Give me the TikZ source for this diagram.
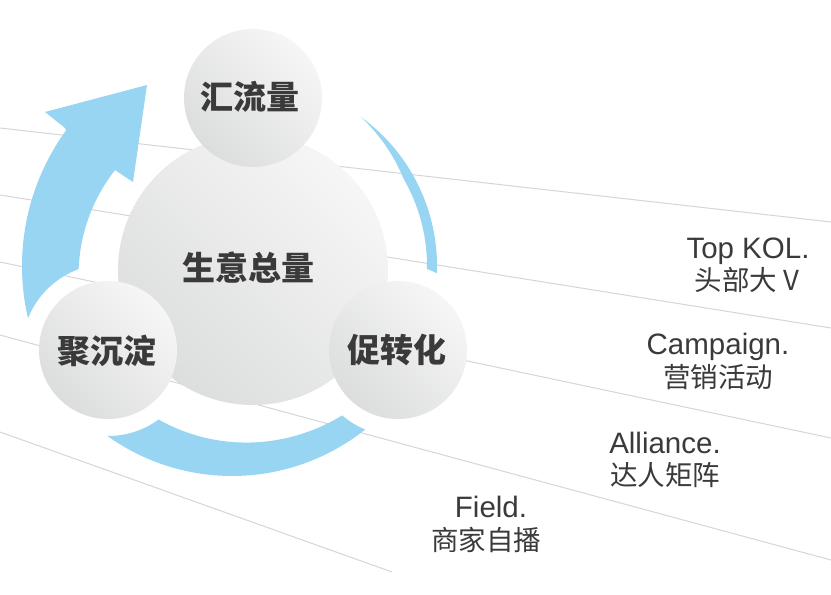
\documentclass[tikz,border=0pt]{standalone}
\usepackage{fontspec}
\setmainfont{Liberation Sans}
\newfontfamily\cjk{Noto Sans CJK SC}
\definecolor{arrowblue}{HTML}{98D5F3}
\definecolor{linegray}{HTML}{D6D6D6}
\definecolor{txt}{HTML}{3A3A3A}
\definecolor{cirlight}{HTML}{F6F6F6}
\definecolor{cirdark}{HTML}{DCDDDD}
\tikzset{
  guide/.style={draw=linegray, line width=1pt},
  band/.style={fill=arrowblue, draw=none},
  ball/.style={circle, inner sep=0pt, minimum size=138pt, draw=none,
    top color=cirlight, bottom color=cirdark, shading angle=-45},
  bigball/.style={ball, minimum size=270pt},
  balltext/.style={text=txt, inner sep=0pt, font=\cjk\bfseries\fontsize{33pt}{40pt}\selectfont},
  entext/.style={text=txt, inner sep=0pt, anchor=base, font=\fontsize{29.5pt}{35pt}\selectfont},
  zhtext/.style={text=txt, inner sep=0pt, font=\cjk\fontsize{27.5pt}{33pt}\selectfont}
}
\begin{document}
\begin{tikzpicture}[x=1pt,y=-1pt]
\useasboundingbox[fill=white] (0,0) rectangle (831,595);
% guide lines
\coordinate (l1a) at (0,128);  \coordinate (l1b) at (831,222);
\coordinate (l2a) at (0,195);  \coordinate (l2b) at (831,328);
\coordinate (l3a) at (0,262);  \coordinate (l3b) at (831,438);
\coordinate (l4a) at (0,335);  \coordinate (l4b) at (831,560);
\coordinate (l5a) at (0,432);  \coordinate (l5b) at (392,572);
\draw[guide] (l1a) -- (l1b);
\draw[guide] (l2a) -- (l2b);
\draw[guide] (l3a) -- (l3b);
\draw[guide] (l4a) -- (l4b);
\draw[guide] (l5a) -- (l5b);
% cycle arrows, cut by white rings round the side balls
\begin{scope}[even odd rule]
\clip (-5,-5) rectangle (836,600)
  (108,350) circle[radius=86pt] (398,350) circle[radius=86pt];
\fill[band] (147,85) -- (45,112) -- (65,128)
  -- plot[domain=216:158,samples=50] ({253+231*cos(\x)},{266+231*sin(\x)})
  -- plot[domain=158:215,samples=50] ({253+(168+8*(215-\x)/45)*cos(\x)},{266+(168+8*(215-\x)/45)*sin(\x)})
  -- (115,170) -- (133,182) -- cycle;
\fill[band] plot[domain=45:135,samples=60] ({232+214*cos(\x)},{262+214*sin(\x)})
  -- plot[domain=135:45,samples=60] ({232+(180+0.25*(90-\x))*cos(\x)},{262+(180+0.25*(90-\x))*sin(\x)})
  -- cycle;
\fill[band] plot[domain=306:372,samples=60] ({253+184*cos(\x)},{266+184*sin(\x)})
  -- plot[domain=372:306,samples=60] ({253+(174+10*max(0,(330-\x)/24))*cos(\x)},{266+(174+10*max(0,(330-\x)/24))*sin(\x)})
  -- cycle;
\end{scope}
% balls
\node[bigball] (core) at (253,270) {};
\node[balltext] (coretxt) at (248,268) {生意总量};
\node[ball] (top) at (253,98) {};
\node[balltext] (toptxt) at (250,97) {汇流量};
\node[ball] (left) at (108,350) {};
\node[balltext] (lefttxt) at (107,351) {聚沉淀};
\node[ball] (right) at (398,350) {};
\node[balltext] (righttxt) at (397,350) {促转化};
% channel labels
\node[entext] (kolen) at (748,258) {Top KOL.};
\node[zhtext] (kolzh) at (747,280) {头部大 V};
\node[entext] (camen) at (718,354) {Campaign.};
\node[zhtext] (camzh) at (718,377) {营销活动};
\node[entext] (allen) at (665,453) {Alliance.};
\node[zhtext] (allzh) at (665,475) {达人矩阵};
\node[entext] (fielden) at (491,517) {Field.};
\node[zhtext] (fieldzh) at (486,540) {商家自播};
\end{tikzpicture}
\end{document}
